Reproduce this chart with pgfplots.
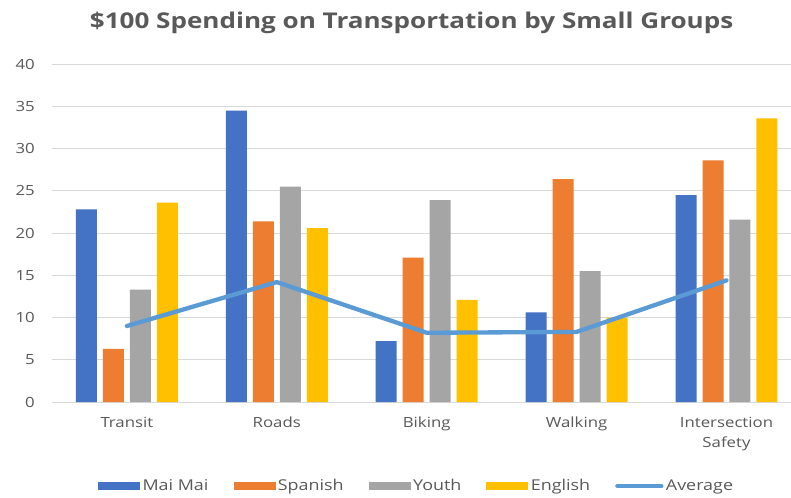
\documentclass[border=0pt]{standalone}
\usepackage{fontspec}
\setmainfont{Open Sans}[FakeStretch=1.2]
\usepackage{pgfplots}
\pgfplotsset{compat=1.18}
\definecolor{cblue}{HTML}{4472C4}
\definecolor{corange}{HTML}{ED7D31}
\definecolor{cgray}{HTML}{A5A5A5}
\definecolor{cgold}{HTML}{FFC000}
\definecolor{cline}{HTML}{5B9BD5}
\definecolor{textgray}{HTML}{595959}
\definecolor{gridgray}{HTML}{D9D9D9}
\pgfplotsset{
  barleg/.style={legend image code/.code={\fill[##1] (0pt,-3pt) rectangle (31.5pt,3pt);}},
  lineleg/.style={legend image code/.code={\draw[cline, line width=3.25pt, line cap=round] (0pt,0pt) -- (33pt,0pt);}},
}
\begin{document}
\begin{tikzpicture}
\path (-39pt,-68.8pt) rectangle (554.25pt,301.7pt);
\begin{axis}[
  at={(0pt,0pt)}, anchor=south west,
  scale only axis,
  width=554.25pt, height=253.5pt,
  xmin=-0.5, xmax=4.427, ymin=0, ymax=40,
  ybar,
  bar width=15.75pt,
  xtick={0,1,2,3,4},
  xticklabels={Transit,Roads,Biking,Walking,{Intersection\\Safety}},
  ytick={0,5,...,40},
  /pgf/number format/assume math mode=true,
  ymajorgrids,
  grid style={color=gridgray, line width=0.75pt},
  axis x line=bottom, axis y line=left,
  y axis line style={draw=none},
  x axis line style={draw=gridgray, line width=0.75pt, -},
  major tick length=0pt,
  tick style={draw=none},
  yticklabel style={anchor=east, inner sep=0pt, text=textgray, font=\fontsize{10.5}{12}\selectfont},
  yticklabel shift=12.75pt,
  xticklabel style={anchor=north, align=center, inner sep=0pt, text=textgray, font=\fontsize{10.5}{15}\selectfont},
  xticklabel shift=11pt,
  title={\$100 Spending on Transportation by Small Groups},
  title style={at={(0.487,1)}, anchor=center, yshift=24.75pt, text=textgray, font=\fontsize{16.3}{18}\selectfont\bfseries},
  legend style={at={(0.494,-0.2485)}, anchor=center, draw=none, fill=none,
    legend columns=-1, font=\fontsize{11.2}{12}\selectfont, text=textgray,
    /tikz/every even column/.append style={column sep=17pt},
    nodes={inner sep=1.8pt}},
  legend cell align=left,
]
\addplot[fill=cblue, draw=none, bar shift=-30.375pt, barleg]
  coordinates {(0,22.8) (1,34.5) (2,7.2) (3,10.6) (4,24.5)};
\addlegendentry{Mai Mai}
\addplot[fill=corange, draw=none, bar shift=-10.125pt, barleg]
  coordinates {(0,6.3) (1,21.4) (2,17.1) (3,26.4) (4,28.6)};
\addlegendentry{Spanish}
\addplot[fill=cgray, draw=none, bar shift=10.125pt, barleg]
  coordinates {(0,13.3) (1,25.5) (2,23.9) (3,15.5) (4,21.6)};
\addlegendentry{Youth}
\addplot[fill=cgold, draw=none, bar shift=30.375pt, barleg]
  coordinates {(0,23.6) (1,20.6) (2,12.1) (3,10.0) (4,33.6)};
\addlegendentry{English}
\addplot[sharp plot, draw=cline, line width=3.25pt, line cap=round, line join=round, mark=none, lineleg]
  coordinates {(0,9.0) (1,14.2) (2,8.2) (3,8.3) (4,14.4)};
\addlegendentry{Average}
\end{axis}
\end{tikzpicture}
\end{document}
